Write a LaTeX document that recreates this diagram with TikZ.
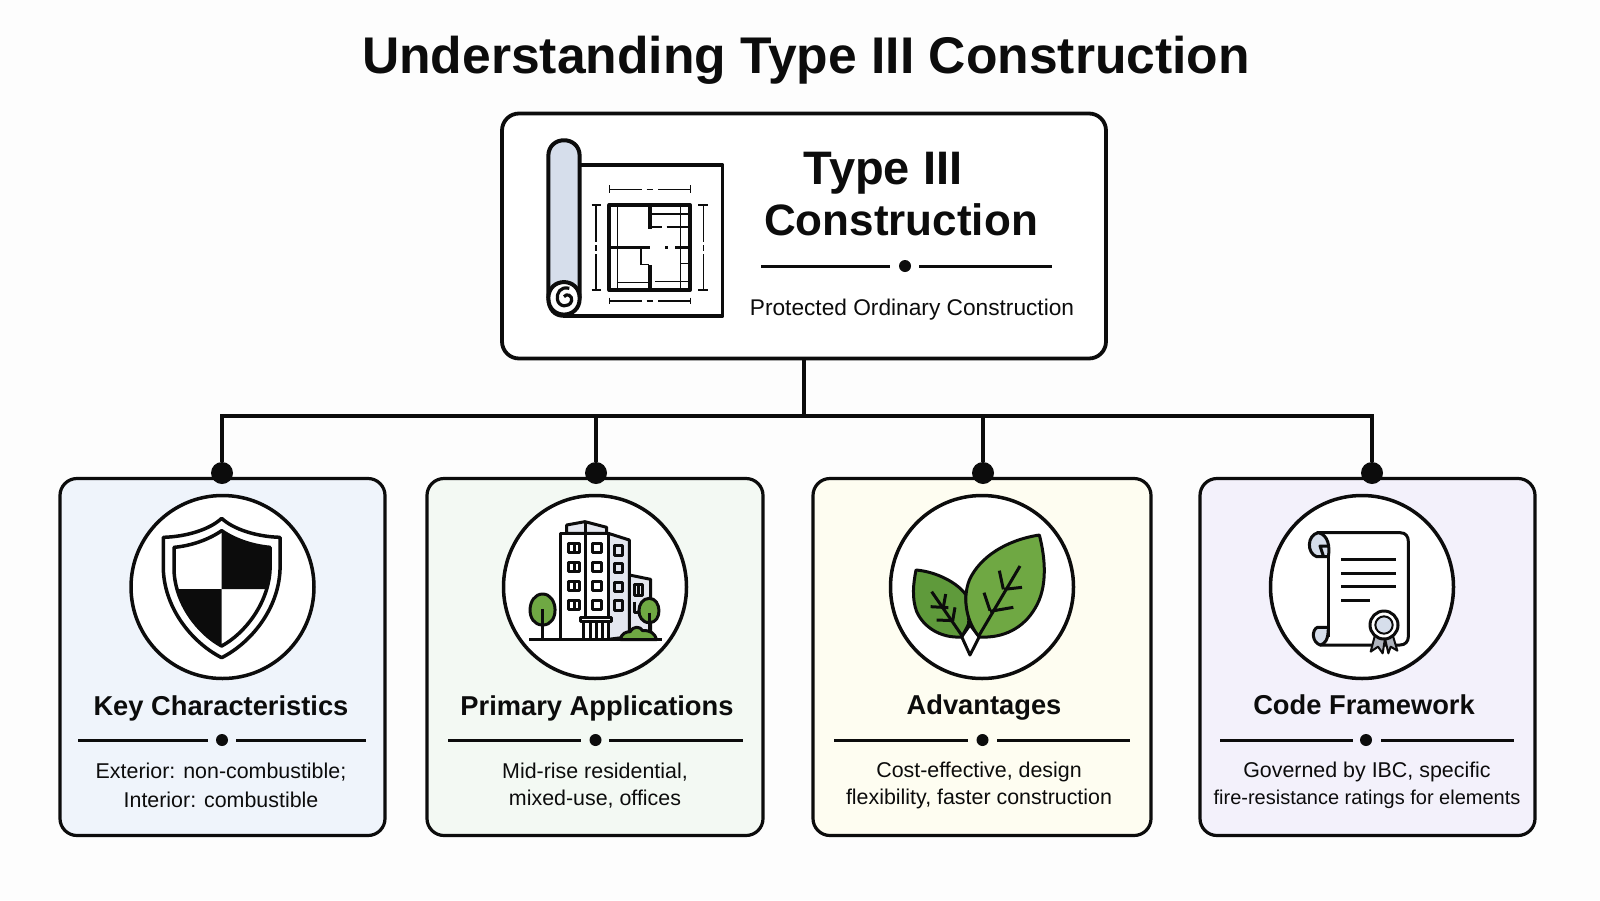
\documentclass[tikz,border=0pt]{standalone}
\usepackage{fontspec}
\setmainfont{Liberation Sans}
\usetikzlibrary{positioning}
\definecolor{pagebg}{HTML}{FDFDFD}
\definecolor{cardblue}{HTML}{EFF4FB}
\definecolor{cardgreen}{HTML}{F3F9F3}
\definecolor{cardyellow}{HTML}{FEFDF1}
\definecolor{cardpurple}{HTML}{F3F1FB}
\definecolor{rollblue}{HTML}{D6DEEB}
\definecolor{facegrey}{HTML}{E4E7EF}
\definecolor{leafgreen}{HTML}{6FA843}
\definecolor{leafdark}{HTML}{5F9A3B}
\definecolor{inkblack}{HTML}{0C0C0C}
\tikzset{
  rootbox/.style={rectangle, draw=inkblack, line width=3.8pt, rounded corners=17pt, fill=white, inner sep=0pt, minimum width=604pt, minimum height=245pt},
  card/.style={rectangle, draw=inkblack, line width=3.2pt, rounded corners=17pt, inner sep=0pt, minimum height=357pt},
  badge/.style={circle, draw=inkblack, line width=3.5pt, fill=white, inner sep=0pt, minimum size=183pt},
  pin/.style={circle, fill=inkblack, inner sep=0pt, minimum size=22pt},
  dot/.style={circle, fill=inkblack, inner sep=0pt, minimum size=12pt},
  link/.style={draw=inkblack, line width=4pt},
  rule/.style={draw=inkblack, line width=3pt},
  icon/.style={draw=inkblack, line width=3pt, line join=round},
  thinicon/.style={draw=inkblack, line width=1.2pt},
  maintitle/.style={inner sep=0pt, text=inkblack, font=\fontsize{51.6}{56}\selectfont\bfseries},
  roottitle/.style={inner sep=0pt, text=inkblack, font=\fontsize{44}{50}\selectfont\bfseries},
  rootsub/.style={inner sep=0pt, text=inkblack, font=\fontsize{22.7}{27}\selectfont},
  cardtitle/.style={inner sep=0pt, text=inkblack, font=\fontsize{27.3}{32}\selectfont\bfseries},
  cardtext/.style={inner sep=0pt, text=inkblack, font=\fontsize{21.4}{26}\selectfont}
}
\begin{document}
\begin{tikzpicture}[x=1pt,y=-1pt]
      \useasboundingbox (0,0) rectangle (1600,900);
      \fill[pagebg] (0,0) rectangle (1600,900);
      % title and top box
      \node[maintitle] at (806,60) (title) {Understanding Type III Construction};
      \node[rootbox] at (804,236) (root) {};
      \node[roottitle, font=\fontsize{47}{50}\selectfont\bfseries] at (883,173) (type) {Type III};
      \node[roottitle] at (901,220) (constr) {Construction};
      \node[dot] at (905,266) (rootdot) {};
      \draw[rule] (761,266) -- (890,266);
      \draw[rule] (919,266) -- (1052,266);
      \node[rootsub] at (912,310) (rootsub) {Protected Ordinary Construction};
      % four cards
      \node[card, fill=cardblue, minimum width=325pt] at (222.5,657) (carda) {};
      \node[card, fill=cardgreen, minimum width=336pt] at (595,657) (cardb) {};
      \node[card, fill=cardyellow, minimum width=338pt] at (982,657) (cardc) {};
      \node[card, fill=cardpurple, minimum width=335pt] at (1367.5,657) (cardd) {};
      \node[pin] at (222,473) (pina) {};
      \node[pin] at (596,473) (pinb) {};
      \node[pin] at (983,473) (pinc) {};
      \node[pin] at (1372,473) (pind) {};
      % connectors
      \coordinate (busa) at (222,416);
      \coordinate (busb) at (596,416);
      \coordinate (busc) at (983,416);
      \coordinate (busd) at (1372,416);
      \draw[link] (root.south) -- (root.south |- busa);
      \draw[link, line cap=rect] (busa) -- (busd);
      \draw[link] (busa) -- (pina);
      \draw[link] (busb) -- (pinb);
      \draw[link] (busc) -- (pinc);
      \draw[link] (busd) -- (pind);
      % badges
      \node[badge] at (222.5,587) (badgea) {};
      \node[badge] at (595,587) (badgeb) {};
      \node[badge] at (982,587) (badgec) {};
      \node[badge] at (1362,587) (badged) {};
      % card texts
      \node[cardtitle] at (221,708) (heada) {Key Characteristics};
      \node[cardtitle] at (597,708) (headb) {Primary Applications};
      \node[cardtitle] at (984,707) (headc) {Advantages};
      \node[cardtitle] at (1364,705) (headd) {Code Framework};
      \node[dot] at (222,740) (dota) {};
      \node[dot] at (595.5,740) (dotb) {};
      \node[dot] at (982.5,740) (dotc) {};
      \node[dot] at (1366,740) (dotd) {};
      \draw[rule] (78,740) -- (208,740);
      \draw[rule] (236,740) -- (366,740);
      \draw[rule] (448,740) -- (581,740);
      \draw[rule] (609,740) -- (743,740);
      \draw[rule] (834,740) -- (968,740);
      \draw[rule] (997,740) -- (1130,740);
      \draw[rule] (1220,740) -- (1353,740);
      \draw[rule] (1381,740) -- (1514,740);
      \node[cardtext] at (221,772) (texta) {Exterior: non-combustible;};
      \node[cardtext] at (221,800) (textaa) {Interior: combustible};
      \node[cardtext] at (595,772) (textb) {Mid-rise residential,};
      \node[cardtext] at (595,799) (textbb) {mixed-use, offices};
      \node[cardtext] at (979,772) (textc) {Cost-effective, design};
      \node[cardtext] at (979,799) (textcc) {flexibility, faster construction};
      \node[cardtext] at (1367,772) (textd) {Governed by IBC, specific};
      \node[cardtext, font=\fontsize{20}{26}\selectfont] at (1367,799) (textdd) {fire-resistance ratings for elements};
      % blueprint
      \begin{scope}[shift={(530,130)},scale=1/3]
      \draw[icon, line width=3.5pt, fill=white] (148,105) -- (578,105) -- (578,558) -- (100,558);
      \draw[icon, line width=4pt, fill=rollblue] (55,505) -- (55,78) .. controls (55,15) and (149,15) .. (149,78) -- (149,505);
      \draw[icon, line width=4pt, fill=white] (55,505) .. controls (55,570) and (149,570) .. (149,505) .. controls (149,440) and (55,440) .. (55,505);
      \draw[icon, line width=3.2pt] (118,475) .. controls (90,468) and (80,490) .. (82,507) .. controls (85,532) and (118,535) .. (125,512) .. controls (128,497) and (110,488) .. (102,500);
      \draw[icon, line width=3.5pt] (55,505) .. controls (55,540) and (75,558) .. (100,558);
      \draw[icon, line width=4pt] (238,225) rectangle (480,480);
      \draw[icon, line width=3.5pt] (360,225) -- (360,296);
      \draw[icon, line width=3.5pt] (238,352) -- (360,352);
      \draw[icon, line width=3.5pt] (360,405) -- (360,480);
      \draw[icon, line width=3.5pt] (435,352) -- (480,352);
      \draw[icon, line width=3.5pt] (405,352) -- (414,352);
      \draw[icon, line width=1.8pt] (360,290) -- (395,290);
      \draw[icon, line width=1.8pt] (410,290) -- (480,290);
      \draw[thinicon] (362,252) -- (478,252);
      \draw[thinicon] (452,228) -- (452,478);
      \draw[thinicon] (263,228) -- (263,350);
      \draw[thinicon] (263,355) -- (263,478);
      \draw[thinicon] (333,355) -- (333,404) -- (358,404);
      \draw[thinicon] (263,457) -- (358,457);
      \draw[thinicon] (375,455) -- (478,455);
      \draw[thinicon] (452,400) -- (478,400);
      % dimension marks
      \draw[thinicon] (238,165) -- (238,190);
      \draw[thinicon] (482,165) -- (482,190);
      \draw[thinicon] (238,178) -- (335,178);
      \draw[thinicon] (385,178) -- (482,178);
      \draw[thinicon] (350,178) -- (368,178);
      \draw[thinicon] (238,503) -- (238,522);
      \draw[thinicon] (482,503) -- (482,522);
      \draw[thinicon] (238,513) -- (335,513);
      \draw[thinicon] (385,513) -- (482,513);
      \draw[thinicon] (350,513) -- (368,513);
      \draw[thinicon] (185,225) -- (212,225);
      \draw[thinicon] (185,480) -- (212,480);
      \draw[thinicon] (198,225) -- (198,335);
      \draw[thinicon] (198,372) -- (198,480);
      \draw[thinicon] (198,345) -- (198,362);
      \draw[thinicon] (505,225) -- (535,225);
      \draw[thinicon] (505,480) -- (535,480);
      \draw[thinicon] (520,225) -- (520,335);
      \draw[thinicon] (520,372) -- (520,480);
      \draw[thinicon] (520,345) -- (520,362);
      \end{scope}
      % shield
      \begin{scope}[shift={(120,490)},scale=1/3]
      \draw[icon, line width=3.5pt, fill=white] (305,85) .. controls (270,118) and (200,140) .. (130,142) -- (130,240) .. controls (135,360) and (220,460) .. (305,503) .. controls (390,460) and (475,360) .. (480,240) -- (480,142) .. controls (410,140) and (340,118) .. (305,85) -- cycle;
      \fill[inkblack] (305,122) .. controls (345,150) and (400,168) .. (450,172) -- (450,240) .. controls (448,260) and (445,280) .. (438,297) -- (305,297) -- cycle;
      \fill[inkblack] (305,297) -- (172,297) .. controls (195,370) and (245,430) .. (305,468) -- cycle;
      \draw[icon, line width=3.5pt] (305,122) .. controls (265,150) and (210,168) .. (162,172) -- (162,240) .. controls (165,340) and (235,430) .. (305,468) .. controls (375,430) and (445,340) .. (450,240) -- (450,172) .. controls (400,168) and (345,150) .. (305,122) -- cycle;
      \end{scope}
      % building
      \begin{scope}[shift={(490,490)},scale=1/3]
      \draw[icon, fill=facegrey] (230,130) -- (230,105) -- (285,95) -- (350,112) -- (350,130) -- cycle;
      \draw[icon] (285,95) -- (285,130);
      \draw[icon, fill=facegrey] (418,255) -- (482,268) -- (482,430) -- (418,440) -- cycle;
      \draw[icon, fill=facegrey] (355,130) -- (418,150) -- (418,440) -- (355,448) -- cycle;
      \draw[icon, fill=white] (210,449) -- (210,130) -- (355,130) -- (355,449);
      \draw[icon] (285,130) -- (285,380);
      \draw[icon] (235,160) rectangle (268,188);
      \draw[icon] (235,217) rectangle (268,245);
      \draw[icon] (235,274) rectangle (268,302);
      \draw[icon] (235,331) rectangle (268,359);
      \draw[icon] (252,160) -- (252,188);
      \draw[icon] (252,217) -- (252,245);
      \draw[icon] (252,274) -- (252,302);
      \draw[icon] (252,331) -- (252,359);
      \draw[icon] (308,160) rectangle (333,188);
      \draw[icon] (308,217) rectangle (333,245);
      \draw[icon] (308,274) rectangle (333,302);
      \draw[icon] (308,331) rectangle (333,359);
      \draw[icon] (373,165) rectangle (396,195);
      \draw[icon] (373,220) rectangle (396,248);
      \draw[icon] (373,276) rectangle (396,304);
      \draw[icon] (373,332) rectangle (396,360);
      \draw[icon] (434,282) rectangle (458,315);
      \draw[icon] (446,282) -- (446,315);
      \draw[icon] (434,335) -- (434,368) -- (452,368);
      \draw[icon, fill=white] (270,381) rectangle (365,394);
      \draw[icon, fill=white] (280,394) rectangle (355,449);
      \draw[icon] (300,394) -- (300,449);
      \draw[icon] (318,394) -- (318,449);
      \draw[icon] (337,394) -- (337,449);
      \draw[icon, fill=leafgreen] (158,312) .. controls (110,312) and (105,405) .. (158,405) .. controls (210,405) and (205,312) .. (158,312) -- cycle;
      \draw[icon] (158,358) -- (158,449);
      \draw[icon, fill=leafgreen] (478,325) .. controls (438,325) and (435,398) .. (478,398) .. controls (518,398) and (515,325) .. (478,325) -- cycle;
      \draw[icon] (478,368) -- (478,430);
      \draw[icon, fill=leafgreen] (392,449) .. controls (392,430) and (410,425) .. (420,425) .. controls (430,408) and (450,408) .. (458,422) .. controls (480,420) and (495,430) .. (500,449) -- cycle;
      \draw[icon, line width=3.5pt] (118,449) -- (515,449);
      \end{scope}
      % leaves
      \begin{scope}[shift={(880,490)},scale=1/3]
      \draw[icon, fill=white] (245,440) -- (270,495) -- (298,440) -- (270,405) -- cycle;
      \draw[icon, fill=leafdark] (108,240) .. controls (170,245) and (235,280) .. (258,315) .. controls (255,350) and (275,390) .. (262,410) -- (245,441) .. controls (180,445) and (130,410) .. (110,365) .. controls (95,325) and (100,280) .. (108,240) -- cycle;
      \draw[icon, fill=leafgreen] (478,135) .. controls (380,150) and (300,200) .. (268,270) .. controls (245,330) and (262,400) .. (298,441) .. controls (370,445) and (430,415) .. (465,355) .. controls (505,290) and (495,200) .. (478,135) -- cycle;
      \draw[icon] (155,305) -- (248,440);
      \draw[icon] (420,228) -- (295,440);
      \draw[icon] (197,312) -- (190,352);
      \draw[icon] (152,350) -- (205,353);
      \draw[icon] (225,352) -- (218,392);
      \draw[icon] (170,390) -- (222,392);
      \draw[icon] (358,242) -- (370,298);
      \draw[icon] (426,292) -- (372,298);
      \draw[icon] (312,308) -- (330,362);
      \draw[icon] (400,352) -- (330,364);
      \end{scope}
      % scroll
      \begin{scope}[shift={(1260,490)},scale=1/3]
      \fill[white] (205,128) rectangle (445,465);
      \draw[icon] (170,128) -- (420,128) .. controls (438,128) and (445,140) .. (445,155) -- (445,440) .. controls (445,455) and (435,465) .. (420,465) -- (180,465);
      \draw[icon] (205,190) -- (205,440);
      \draw[icon, fill=rollblue] (175,128) .. controls (205,135) and (210,170) .. (205,200) -- (170,200) .. controls (140,190) and (140,135) .. (175,128) -- cycle;
      \draw[icon] (205,168) -- (180,168) -- (190,198);
      \draw[icon, fill=rollblue] (205,412) -- (172,412) .. controls (155,420) and (155,455) .. (180,465) .. controls (195,462) and (205,450) .. (205,412) -- cycle;
      \draw[icon] (243,208) -- (408,208);
      \draw[icon] (243,250) -- (408,250);
      \draw[icon] (243,290) -- (408,290);
      \draw[icon] (243,330) -- (330,330);
      \draw[icon, line width=2pt, fill=rollblue!70!facegrey!80!black] (345,435) -- (332,485) -- (354,470) -- (368,490) -- (375,445) -- (385,490) -- (392,470) -- (412,482) -- (398,435) -- cycle;
      \draw[icon, fill=white] (372,405) circle (42);
      \draw[icon, line width=2pt, fill=rollblue] (372,405) circle (26);
      \end{scope}
      \end{tikzpicture}
\end{document}
